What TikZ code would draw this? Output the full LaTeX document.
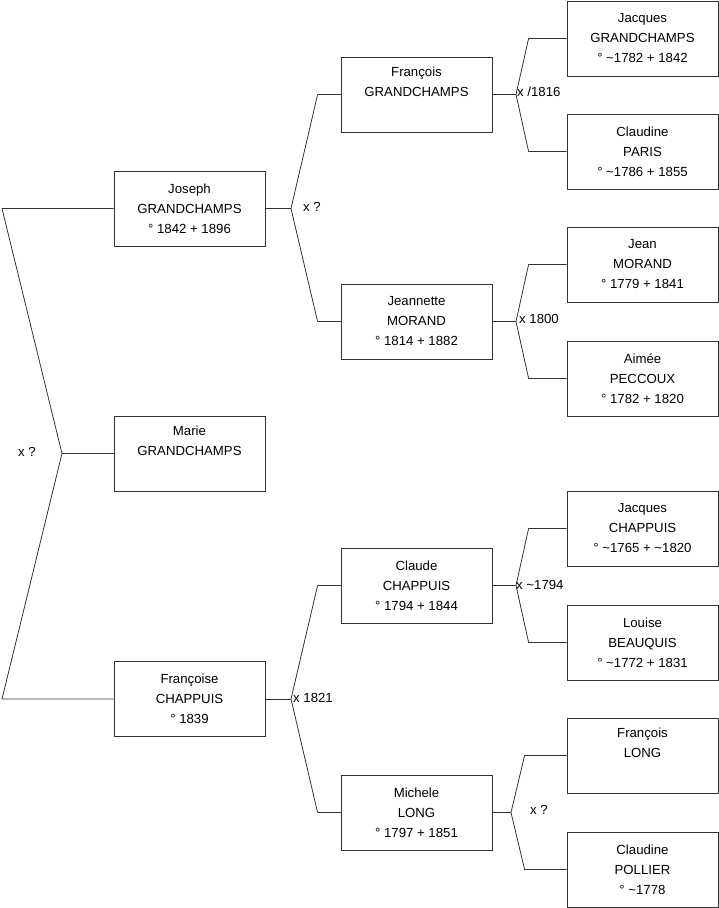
\documentclass[tikz,border=0pt]{standalone}
\usepackage{fontspec}
\setmainfont{Liberation Sans}
\usepackage{tikz}
\usetikzlibrary{calc}

\tikzset{
  person/.style={draw=black!80, line width=0.8pt, minimum width=151pt, minimum height=75pt,
    inner sep=0pt, align=center, font=\fontsize{13.2}{20}\selectfont},
  wed/.style={inner sep=0pt, font=\fontsize{13.2}{20}\selectfont},
  tie/.style={draw=black!80, line width=0.8pt}
}

\begin{document}
\begin{tikzpicture}[x=1pt,y=-1pt]
\useasboundingbox (0,0) rectangle (719,908);

% first generation
\node[person] (joseph) at (189.5,208.5) {Joseph\\GRANDCHAMPS\\° 1842 + 1896};
\node[person] (marie) at (189.5,453.5) {Marie\\GRANDCHAMPS\\\strut};
\node[person] (francoise) at (189.5,699) {Françoise\\CHAPPUIS\\° 1839};

% second generation
\node[person] (francoisG) at (416.5,94.5) {François\\GRANDCHAMPS\\\strut};
\node[person] (jeannette) at (416.5,321.5) {Jeannette\\MORAND\\° 1814 + 1882};
\node[person] (claude) at (416.5,585.5) {Claude\\CHAPPUIS\\° 1794 + 1844};
\node[person] (michele) at (416.5,812.5) {Michele\\LONG\\° 1797 + 1851};

% third generation
\node[person] (jacquesG) at (642.5,38.5) {Jacques\\GRANDCHAMPS\\° \textasciitilde1782 + 1842};
\node[person] (claudineP) at (642.5,151.5) {Claudine\\PARIS\\° \textasciitilde1786 + 1855};
\node[person] (jean) at (642.5,264.5) {Jean\\MORAND\\° 1779 + 1841};
\node[person] (aimee) at (642.5,378.5) {Aimée\\PECCOUX\\° 1782 + 1820};
\node[person] (jacquesC) at (642.5,528.5) {Jacques\\CHAPPUIS\\° \textasciitilde1765 + \textasciitilde1820};
\node[person] (louise) at (642.5,642.5) {Louise\\BEAUQUIS\\° \textasciitilde1772 + 1831};
\node[person] (francoisL) at (642.5,755.5) {François\\LONG\\\strut};
\node[person] (claudinePo) at (642.5,869.5) {Claudine\\POLLIER\\° \textasciitilde1778};

% forks
\coordinate (rA) at (62,453.5);
\coordinate (rU) at (2,208.5);
\coordinate (rD) at (2,699);
\coordinate (jA) at (291,208.5);
\coordinate (fA) at (291,699);
\coordinate (gA) at (516,94.5);
\coordinate (mA) at (516,321.5);
\coordinate (cA) at (516,585.5);
\coordinate (lA) at (511,812.5);

\draw[tie] (joseph.west) -- (rU) -- (rA) -- (rD) -- (francoise.west);
\draw[tie] (rA) -- (marie.west);

\draw[tie] (joseph.east) -- (jA);
\draw[tie] ($(francoisG.west)+(-23,0)$) -- (jA) -- ($(jeannette.west)+(-23,0)$);
\draw[tie] ($(francoisG.west)+(-23,0)$) -- (francoisG.west);
\draw[tie] ($(jeannette.west)+(-23,0)$) -- (jeannette.west);

\draw[tie] (francoise.east) -- (fA);
\draw[tie] ($(claude.west)+(-23,0)$) -- (fA) -- ($(michele.west)+(-23,0)$);
\draw[tie] ($(claude.west)+(-23,0)$) -- (claude.west);
\draw[tie] ($(michele.west)+(-23,0)$) -- (michele.west);

\draw[tie] (francoisG.east) -- (gA);
\draw[tie] (jacquesG.west) -- ++(-38,0) -- (gA) -- ($(claudineP.west)+(-38,0)$) -- (claudineP.west);

\draw[tie] (jeannette.east) -- (mA);
\draw[tie] (jean.west) -- ++(-38,0) -- (mA) -- ($(aimee.west)+(-38,0)$) -- (aimee.west);

\draw[tie] (claude.east) -- (cA);
\draw[tie] (jacquesC.west) -- ++(-38,0) -- (cA) -- ($(louise.west)+(-38,0)$) -- (louise.west);

\draw[tie] (michele.east) -- (lA);
\draw[tie] (francoisL.west) -- ++(-42,0) -- (lA) -- ($(claudinePo.west)+(-42,0)$) -- (claudinePo.west);

% marriages
\node[wed] (wRoot) at (27,452) {x ?};
\node[wed] (wJoseph) at (312,207) {x ?};
\node[wed, anchor=west] (wFrancois) at (517,92) {x /1816};
\node[wed, anchor=west] (wJeannette) at (519,319) {x 1800};
\node[wed, anchor=west] (wClaude) at (516,585) {x \textasciitilde1794};
\node[wed, anchor=west] (wFrancoise) at (293,698) {x 1821};
\node[wed] (wMichele) at (539,810) {x ?};

\end{tikzpicture}
\end{document}
